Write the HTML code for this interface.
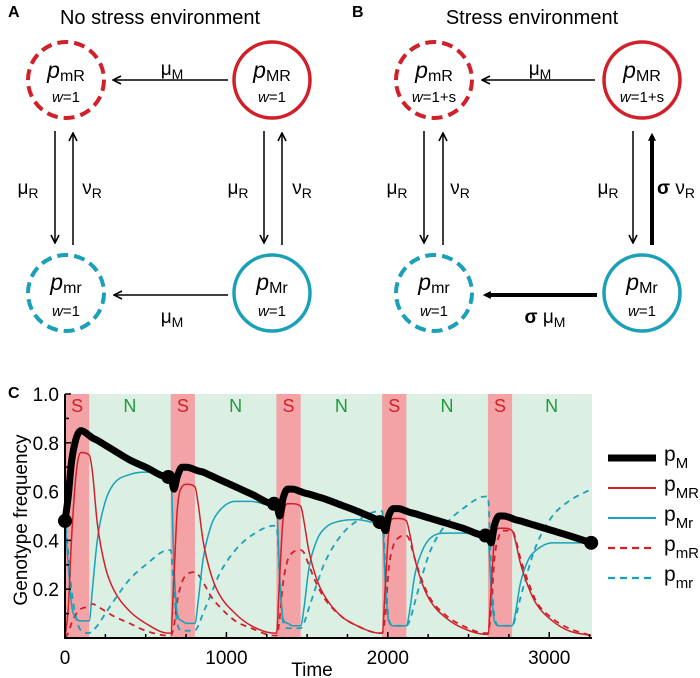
<!DOCTYPE html>
<html><head><meta charset="utf-8"><style>
body{margin:0;background:#fff;}
svg{display:block;font-family:"Liberation Sans",sans-serif;}
</style></head><body>
<svg id="fig" width="700" height="678" viewBox="0 0 700 678">
<defs>
<marker id="ah" viewBox="0 0 10 10" refX="9" refY="5" markerWidth="10" markerHeight="10" markerUnits="userSpaceOnUse" orient="auto"><path d="M1,1 L9,5 L1,9" fill="none" stroke="#000" stroke-width="1.6"/></marker>
<marker id="ahb" viewBox="0 0 10 10" refX="6" refY="5" markerWidth="8" markerHeight="8" markerUnits="userSpaceOnUse" orient="auto"><path d="M0,0 L10,5 L0,10 z" fill="#000"/></marker>
</defs>
<g>
<text x="8" y="17" font-size="16" font-weight="bold">A</text>
<text x="160" y="24" font-size="20" text-anchor="middle">No stress environment</text>
<circle cx="66" cy="80" r="38" fill="none" stroke="#d0202a" stroke-width="4" stroke-dasharray="11,6"/>
<circle cx="272" cy="80" r="38" fill="none" stroke="#d0202a" stroke-width="3.5"/>
<circle cx="66" cy="293" r="38" fill="none" stroke="#1aa0b8" stroke-width="4" stroke-dasharray="11,6"/>
<circle cx="272" cy="293" r="38" fill="none" stroke="#1aa0b8" stroke-width="3.5"/>
<g font-size="23" text-anchor="middle"><text x="66" y="78"><tspan font-style="italic">p</tspan><tspan font-size="16" dy="3">mR</tspan></text>
<text x="272" y="78"><tspan font-style="italic">p</tspan><tspan font-size="16" dy="3">MR</tspan></text>
<text x="66" y="290"><tspan font-style="italic">p</tspan><tspan font-size="16" dy="3">mr</tspan></text>
<text x="272" y="290"><tspan font-style="italic">p</tspan><tspan font-size="16" dy="3">Mr</tspan></text></g>
<g font-size="15" text-anchor="middle"><text x="66" y="102"><tspan font-style="italic">w</tspan>=1</text><text x="272" y="102"><tspan font-style="italic">w</tspan>=1</text><text x="66" y="316"><tspan font-style="italic">w</tspan>=1</text><text x="272" y="316"><tspan font-style="italic">w</tspan>=1</text></g>
<g stroke="#000" stroke-width="1.5" marker-end="url(#ah)">
<line x1="228" y1="80" x2="113" y2="80"/>
<line x1="228" y1="295" x2="114" y2="295"/>
<line x1="55" y1="131" x2="55" y2="243"/><line x1="73" y1="245" x2="73" y2="133"/>
<line x1="264" y1="131" x2="264" y2="243"/><line x1="282" y1="245" x2="282" y2="133"/></g>
<g font-size="19" text-anchor="middle">
<text x="172" y="75">μ<tspan font-size="14" dy="4">M</tspan></text>
<text x="172" y="323">μ<tspan font-size="14" dy="4">M</tspan></text>
<text x="28" y="194">μ<tspan font-size="14" dy="4">R</tspan></text>
<text x="92" y="194">ν<tspan font-size="14" dy="4">R</tspan></text>
<text x="238" y="194">μ<tspan font-size="14" dy="4">R</tspan></text>
<text x="302" y="194">ν<tspan font-size="14" dy="4">R</tspan></text></g>
</g>
<g>
<text x="352" y="17" font-size="16" font-weight="bold">B</text>
<text x="532" y="24" font-size="20" text-anchor="middle">Stress environment</text>
<circle cx="434" cy="80" r="38" fill="none" stroke="#d0202a" stroke-width="4" stroke-dasharray="11,6"/>
<circle cx="642" cy="80" r="38" fill="none" stroke="#d0202a" stroke-width="3.5"/>
<circle cx="434" cy="293" r="38" fill="none" stroke="#1aa0b8" stroke-width="4" stroke-dasharray="11,6"/>
<circle cx="642" cy="293" r="38" fill="none" stroke="#1aa0b8" stroke-width="3.5"/>
<g font-size="23" text-anchor="middle"><text x="434" y="78"><tspan font-style="italic">p</tspan><tspan font-size="16" dy="3">mR</tspan></text>
<text x="642" y="78"><tspan font-style="italic">p</tspan><tspan font-size="16" dy="3">MR</tspan></text>
<text x="434" y="290"><tspan font-style="italic">p</tspan><tspan font-size="16" dy="3">mr</tspan></text>
<text x="642" y="290"><tspan font-style="italic">p</tspan><tspan font-size="16" dy="3">Mr</tspan></text></g>
<g font-size="15" text-anchor="middle"><text x="434" y="102"><tspan font-style="italic">w</tspan>=1+s</text><text x="642" y="102"><tspan font-style="italic">w</tspan>=1+s</text><text x="434" y="316"><tspan font-style="italic">w</tspan>=1</text><text x="642" y="316"><tspan font-style="italic">w</tspan>=1</text></g>
<g stroke="#000" stroke-width="1.5" marker-end="url(#ah)">
<line x1="595" y1="80" x2="482" y2="80"/>
<line x1="424" y1="131" x2="424" y2="243"/><line x1="443" y1="245" x2="443" y2="133"/>
<line x1="633" y1="131" x2="633" y2="243"/></g>
<g stroke="#000" stroke-width="4" marker-end="url(#ahb)">
<line x1="652" y1="245" x2="652" y2="136"/>
<line x1="597" y1="295" x2="486" y2="295"/></g>
<g font-size="19" text-anchor="middle">
<text x="540" y="75">μ<tspan font-size="14" dy="4">M</tspan></text>
<text x="545" y="323"><tspan font-weight="bold">σ</tspan> μ<tspan font-size="14" dy="4">M</tspan></text>
<text x="397" y="194">μ<tspan font-size="14" dy="4">R</tspan></text>
<text x="460" y="194">ν<tspan font-size="14" dy="4">R</tspan></text>
<text x="608" y="194">μ<tspan font-size="14" dy="4">R</tspan></text>
<text x="676" y="194"><tspan font-weight="bold">σ</tspan> ν<tspan font-size="14" dy="4">R</tspan></text></g>
</g>
<text x="8" y="398" font-size="16" font-weight="bold">C</text>
<g id="chart"></g>
</svg>
<script>
const times = [0,20,40,70,100,150,170,200,250,300,400,500,640,
655,675,695,725,755,805,825,855,905,955,1055,1155,1295,
1310,1330,1350,1380,1410,1460,1480,1510,1560,1610,1710,1810,1950,
1965,1985,2005,2035,2065,2115,2135,2165,2215,2265,2365,2465,2605,
2620,2640,2660,2690,2720,2770,2790,2820,2870,2920,3020,3120,3260];
const pM = [0.48,0.58,0.72,0.82,0.85,0.83,0.82,0.81,0.79,0.77,0.73,0.70,0.66,
0.66,0.61,0.66,0.70,0.70,0.69,0.685,0.68,0.665,0.65,0.62,0.59,0.55,
0.55,0.50,0.57,0.61,0.61,0.60,0.595,0.59,0.58,0.57,0.545,0.52,0.48,
0.475,0.44,0.50,0.53,0.53,0.52,0.515,0.51,0.50,0.49,0.47,0.45,0.42,
0.42,0.39,0.46,0.50,0.50,0.49,0.485,0.48,0.47,0.46,0.44,0.42,0.39];
const pMR = [0.00,0.12,0.40,0.68,0.76,0.75,0.68,0.47,0.29,0.20,0.11,0.06,0.02,
0.02,0.25,0.52,0.62,0.63,0.62,0.55,0.40,0.26,0.18,0.10,0.05,0.02,
0.02,0.25,0.48,0.55,0.55,0.54,0.48,0.36,0.24,0.17,0.09,0.05,0.02,
0.02,0.22,0.43,0.49,0.49,0.48,0.43,0.33,0.22,0.15,0.08,0.04,0.015,
0.015,0.20,0.40,0.45,0.45,0.44,0.40,0.31,0.21,0.14,0.07,0.03,0.01];
const pMr = [0.48,0.30,0.14,0.08,0.07,0.07,0.20,0.40,0.56,0.63,0.67,0.68,0.67,
0.67,0.30,0.10,0.07,0.06,0.06,0.15,0.32,0.46,0.52,0.56,0.56,0.54,
0.54,0.25,0.08,0.06,0.05,0.05,0.12,0.28,0.40,0.45,0.48,0.485,0.47,
0.47,0.22,0.07,0.05,0.05,0.05,0.11,0.25,0.36,0.41,0.43,0.43,0.42,
0.42,0.20,0.07,0.05,0.05,0.05,0.10,0.22,0.32,0.36,0.39,0.39,0.39];
const pmR = [0.00,0.02,0.06,0.10,0.12,0.13,0.14,0.13,0.11,0.09,0.06,0.03,0.01,
0.01,0.05,0.15,0.23,0.26,0.27,0.26,0.23,0.17,0.13,0.07,0.04,0.01,
0.01,0.08,0.22,0.32,0.35,0.36,0.35,0.30,0.22,0.16,0.09,0.05,0.02,
0.02,0.10,0.28,0.38,0.41,0.42,0.40,0.33,0.23,0.16,0.09,0.05,0.02,
0.02,0.12,0.32,0.42,0.44,0.44,0.41,0.33,0.23,0.15,0.08,0.04,0.01];
const pmr = [0.50,0.35,0.20,0.08,0.03,0.02,0.03,0.05,0.10,0.15,0.24,0.30,0.36,
0.36,0.20,0.06,0.03,0.03,0.03,0.05,0.10,0.18,0.26,0.36,0.42,0.46,
0.46,0.25,0.07,0.04,0.04,0.04,0.06,0.12,0.22,0.31,0.42,0.48,0.52,
0.52,0.28,0.08,0.05,0.05,0.05,0.07,0.14,0.26,0.36,0.47,0.53,0.58,
0.58,0.30,0.09,0.05,0.05,0.05,0.08,0.16,0.28,0.38,0.50,0.56,0.61];
const stressStarts = [0,655,1310,1965,2620];
const stressEnds = [150,805,1460,2115,2770];
const nCenters = [402,1057,1712,2367,3015];
const dotTimes = [0,640,1295,1950,2605,3260];
const dotValues = [0.48,0.66,0.55,0.475,0.42,0.39];
const xTicks = [0,1000,2000,3000];
const yTicks = [0.2,0.4,0.6,0.8,1.0];
const yTickLabels = ["0.2","0.4","0.6","0.8","1.0"];

const NS='http://www.w3.org/2000/svg';
const g=document.getElementById('chart');
const X0=65,X1=592,Y0=638,Y1=394,TMAX=3265;
const x=t=>X0+t*(X1-X0)/TMAX;
const y=v=>Y0-v*(Y0-Y1);
function mk(tag,attrs,parent){const e=document.createElementNS(NS,tag);for(const k in attrs)e.setAttribute(k,attrs[k]);(parent||g).appendChild(e);return e;}
let bg=mk('rect',{x:X0,y:Y1,width:X1-X0,height:Y0-Y1,fill:'#dcefe3'});


stressStarts.forEach((s,i)=>{
 const r=mk('rect',{x:x(s),y:Y1,width:x(stressEnds[i])-x(s),height:Y0-Y1,fill:'#f3a2a6'});
 
 
 const t=mk('text',{x:(x(s)+x(stressEnds[i]))/2,y:412,'font-size':18,fill:'#d0202a','text-anchor':'middle'});t.textContent='S';
 
 
});
nCenters.forEach(c=>{
 const t=mk('text',{x:x(c),y:412,'font-size':18,fill:'#1e9a3c','text-anchor':'middle'});t.textContent='N';
 
 
});
function path(vals){
 const p=times.map((t,i)=>[x(t),y(vals[i])]);const n=p.length;
 const d=[],m=[];
 for(let i=0;i<n-1;i++)d.push((p[i+1][1]-p[i][1])/(p[i+1][0]-p[i][0]));
 m[0]=d[0];m[n-1]=d[n-2];
 for(let i=1;i<n-1;i++){m[i]=(d[i-1]*d[i]<=0)?0:(d[i-1]+d[i])/2;}
 for(let i=0;i<n-1;i++){if(d[i]===0){m[i]=0;m[i+1]=0;continue;}const a=m[i]/d[i],b=m[i+1]/d[i],s=a*a+b*b;if(s>9){const tt=3/Math.sqrt(s);m[i]=tt*a*d[i];m[i+1]=tt*b*d[i];}}
 let s='M'+p[0][0]+','+p[0][1];
 for(let i=0;i<n-1;i++){const h=(p[i+1][0]-p[i][0])/3;s+=` C${p[i][0]+h},${p[i][1]+m[i]*h} ${p[i+1][0]-h},${p[i+1][1]-m[i+1]*h} ${p[i+1][0]},${p[i+1][1]}`;}
 return s;
}
const series=[[pmr,'#1aa0b8',1.8,'6,5','line-pmr'],[pmR,'#d0202a',1.8,'6,5','line-pmR'],[pMr,'#1aa0b8',1.5,'','line-pMr'],[pMR,'#d0202a',1.5,'','line-pMR'],[pM,'#000',7,'','line-pM']];
series.forEach(s=>{
 const e=mk('path',{d:path(s[0]),fill:'none',stroke:s[1],'stroke-width':s[2],'stroke-linejoin':'round'});
 if(s[3])e.setAttribute('stroke-dasharray',s[3]);
 
 
});
dotTimes.forEach((t,i)=>{
 const c=mk('circle',{cx:x(t),cy:y(dotValues[i]),r:7,fill:'#000'});
 
 
});
const ax=mk('path',{d:`M${X0},${Y1} V${Y0} H${X1}`,fill:'none',stroke:'#000','stroke-width':2});


for(let v=0.1;v<1.05;v+=0.1){mk('line',{x1:X0,x2:X0+(Math.round(v*10)%2?4:6),y1:y(v),y2:y(v),stroke:'#000','stroke-width':1.5});}
for(let t=250;t<TMAX;t+=250){mk('line',{x1:x(t),x2:x(t),y1:Y0,y2:Y0-(t%1000?4:6),stroke:'#000','stroke-width':1.5});}
yTicks.forEach((v,i)=>{const t=mk('text',{x:X0-6,y:y(v)+7,'font-size':19,'text-anchor':'end'});t.textContent=yTickLabels[i];
 
 });
xTicks.forEach(v=>{const t=mk('text',{x:x(v),y:664,'font-size':19,'text-anchor':'middle'});t.textContent=String(v);
 
 });
const xt=mk('text',{x:312,y:676,'font-size':19,'text-anchor':'middle'});xt.textContent='Time';


const yt=mk('text',{x:0,y:0,'font-size':19,'text-anchor':'middle',transform:'translate(27,520) rotate(-90)'});yt.textContent='Genotype frequency';


const legend=[['M','#000',7,''],['MR','#d0202a',2,''],['Mr','#1aa0b8',2,''],['mR','#d0202a',2.2,'7,5'],['mr','#1aa0b8',2.2,'7,5']];
legend.forEach((l,i)=>{
 const ly=458+i*30;
 const ln=mk('line',{x1:608,x2:656,y1:ly,y2:ly,stroke:l[1],'stroke-width':l[2]});
 if(l[3])ln.setAttribute('stroke-dasharray',l[3]);
 
 
 const t=mk('text',{x:664,y:ly+3,'font-size':21});
 t.innerHTML='p<tspan font-size="15" dy="7">'+l[0]+'</tspan>';
 
 
});
</script>
</body></html>
